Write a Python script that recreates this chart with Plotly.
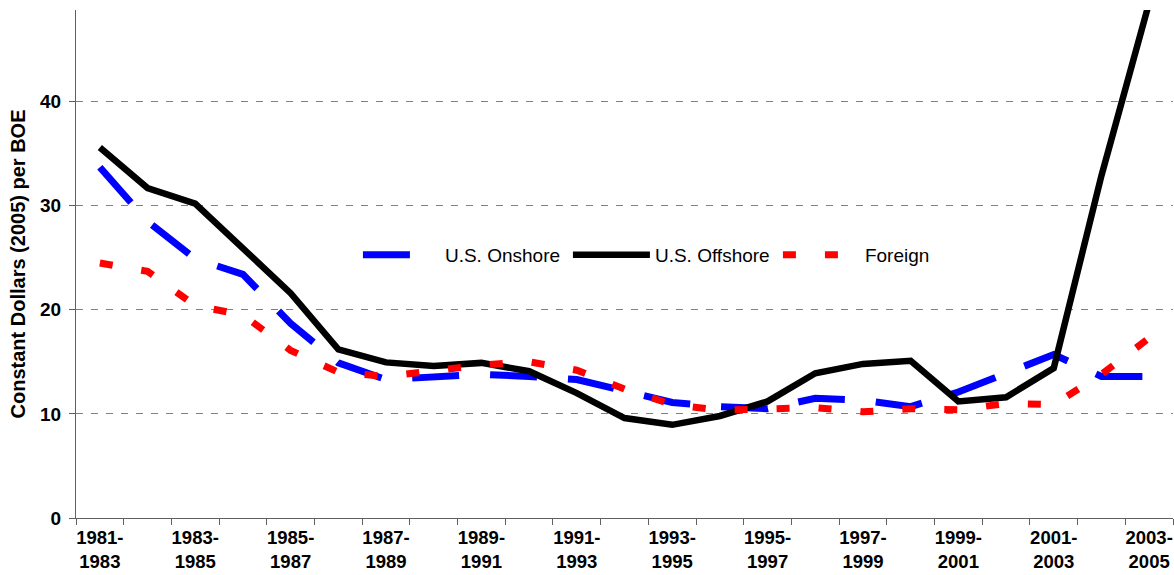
import plotly.graph_objects as go

periods = ["1981-1983", "1982-1984", "1983-1985", "1984-1986", "1985-1987", "1986-1988",
           "1987-1989", "1988-1990", "1989-1991", "1990-1992", "1991-1993", "1992-1994",
           "1993-1995", "1994-1996", "1995-1997", "1996-1998", "1997-1999", "1998-2000",
           "1999-2001", "2000-2002", "2001-2003", "2002-2004", "2003-2005"]

onshore = [33.7, 28.5, 24.9, 23.4, 18.7, 14.9, 13.3, 13.6, 13.8, 13.6, 13.3, 12.2,
           11.1, 10.7, 10.5, 11.5, 11.3, 10.7, 12.1, 13.9, 15.7, 13.6, 13.6]
offshore = [35.6, 31.7, 30.2, 25.8, 21.6, 16.2, 14.95, 14.6, 14.9, 14.1, 12.0, 9.6,
            8.95, 9.8, 11.2, 13.9, 14.8, 15.1, 11.2, 11.6, 14.4, 32.9, 49.5]
foreign = [24.5, 23.7, 20.4, 19.5, 16.1, 14.0, 13.6, 14.1, 14.7, 15.0, 14.2, 12.4,
           10.9, 10.35, 10.55, 10.6, 10.2, 10.5, 10.4, 11.0, 10.9, 13.8, 17.3]

y_ticks = [0, 10, 20, 30, 40]

idx = list(range(len(periods)))
tick_idx = idx[::2]
tick_text = [periods[i].replace("-", "-<br>") for i in tick_idx]

FONT = "Arial, Liberation Sans, sans-serif"
AXIS_COL = "#606060"

fig = go.Figure()
fig.add_trace(go.Scatter(x=idx, y=onshore, name="U.S. Onshore", mode="lines",
                         line=dict(color="#0000FF", width=7, dash="47px,31px")))
fig.add_trace(go.Scatter(x=idx, y=offshore, name="U.S. Offshore", mode="lines",
                         line=dict(color="#000000", width=6.5)))
fig.add_trace(go.Scatter(x=idx, y=foreign, name="Foreign", mode="lines",
                         line=dict(color="#FF0000", width=7, dash="13px,29px")))

fig.update_layout(
    width=1174, height=575,
    margin=dict(l=76, r=1, t=10, b=57),
    paper_bgcolor="white", plot_bgcolor="white",
    font=dict(family=FONT, color="black"),
    legend=dict(orientation="h", x=0.257, xanchor="left", y=0.518, yanchor="middle",
                font=dict(size=19, family=FONT),
                itemwidth=77, entrywidth=118, entrywidthmode="pixels",
                bgcolor="rgba(0,0,0,0)", traceorder="normal"),
    xaxis=dict(range=[-0.5, len(periods) - 0.5], tickmode="array", tickvals=tick_idx,
               ticktext=tick_text, ticks="", showgrid=False, zeroline=False,
               showline=True, linecolor=AXIS_COL, linewidth=1.3, automargin=False,
               ticklabelstandoff=3, ticklabeloverflow="allow",
               tickfont=dict(size=18.5, family=FONT, weight="bold"),
               minor=dict(tickmode="array", tickvals=[i - 0.5 for i in range(len(periods) + 1)],
                          ticks="outside", ticklen=6, tickcolor=AXIS_COL, tickwidth=1.3,
                          showgrid=False)),
    yaxis=dict(range=[0, 48.8], tickmode="array", tickvals=y_ticks, ticks="outside",
               ticklen=6, tickcolor=AXIS_COL, tickwidth=1.3, automargin=False,
               showline=True, linecolor=AXIS_COL, linewidth=1.3,
               showgrid=True, gridcolor="#808080", griddash="7px,8px", gridwidth=1,
               zeroline=False, ticklabelstandoff=4,
               tickfont=dict(size=19, family=FONT, weight="bold"),
               title=dict(text="Constant Dollars (2005) per BOE",
                          font=dict(size=20, family=FONT, weight="bold"),
                          standoff=8)),
)

fig.write_html("out.html", config={"displayModeBar": False},
               post_script="document.body.style.margin='0';document.body.style.overflow='hidden';")
